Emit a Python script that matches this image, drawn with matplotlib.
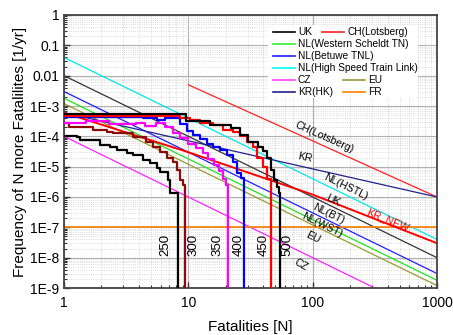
import numpy as np
import matplotlib
matplotlib.use('Agg')
import matplotlib.pyplot as plt
from matplotlib.lines import Line2D
from matplotlib.patches import Rectangle
from matplotlib.ticker import LogLocator, FixedLocator, NullFormatter

plt.rcParams['font.family'] = ['Liberation Sans', 'DejaVu Sans']

# ---- criterion lines (N, F) ----
uk_N = [1, 1000];    uk_F = [1e-2, 1e-8]
ch_N = [10, 1000];   ch_F = [5e-3, 1e-6]
wst_N = [1, 1000];   wst_F = [1.8e-3, 1.8e-9]
bt_N = [1, 1000];    bt_F = [3e-3, 3e-9]
hstl_N = [1, 1000];  hstl_F = [4e-2, 4e-8]
cz_N = [1, 1000];    cz_F = [1e-4, 1e-10]
eu_N = [1, 1000];    eu_F = [1.2e-3, 1.2e-9]
krhk_N = [1, 1000];  krhk_F = [6e-4, 1e-6]
fr_N = [1, 1000];    fr_F = [1e-7, 1e-7]
krnew_N = [1, 10, 100, 1000]; krnew_F = [6e-4, 3e-5, 1.2e-6, 3e-8]

# ---- F-N step curves (level start N, F level), drop N ----
c500_N = [1, 9.5, 15, 22, 26, 30, 36, 40, 43, 46, 49, 52, 53.5]
c500_F = [5.5e-4, 3.2e-4, 2.4e-4, 1.9e-4, 1.1e-4, 6.5e-5, 4.4e-5, 3.2e-5, 2.0e-5, 8e-6, 3.5e-6, 2.2e-6, 1.4e-6]
c500_drop = 55

c450_N = [1, 8.6, 10.3, 12.4, 15.8, 19, 22.8, 26, 29.6, 33.2, 35.8, 39.9, 43]
c450_F = [4.8e-4, 4.0e-4, 3.4e-4, 2.75e-4, 2.3e-4, 1.6e-4, 1.4e-4, 1.0e-4, 6.5e-5, 4.4e-5, 2.0e-5, 9.5e-6, 4e-6]
c450_drop = 46.3

c400_N = [1, 4.3, 5.6, 6.5, 8.6, 9.8, 10.9, 12.4, 14.1, 15.8, 18, 20.5, 22.8, 24.6, 26.5]
c400_F = [4.5e-4, 4.0e-4, 3.5e-4, 4.0e-4, 2.5e-4, 1.5e-4, 1.1e-4, 8e-5, 5.6e-5, 4.4e-5, 3.5e-5, 2.5e-5, 1.4e-5, 6.3e-6, 4.2e-6]
c400_drop = 28

c350_N = [1, 1.5, 2.3, 3.8, 4.5, 5.5, 6.5, 7.5, 8.6, 10, 11.5, 13, 14.5, 16, 17.5, 19, 20]
c350_F = [2.8e-4, 3.2e-4, 2.5e-4, 2.8e-4, 2.2e-4, 2.8e-4, 2.0e-4, 1.26e-4, 8.9e-5, 5.6e-5, 4e-5, 2.8e-5, 1.8e-5, 1.1e-5, 7e-6, 4e-6, 2.5e-6]
c350_drop = 20.9

c300_N = [1, 1.1, 1.7, 2.2, 2.5, 3.6, 4.6, 5.2, 5.9, 6.7, 7.5, 8.1, 8.6, 9.0]
c300_F = [2.75e-4, 2.0e-4, 1.6e-4, 1.4e-4, 1.3e-4, 9.3e-5, 6.5e-5, 4.4e-5, 3.0e-5, 2.0e-5, 1.4e-5, 7.6e-6, 3.5e-6, 2.5e-6]
c300_drop = 9.4

c250_N = [1, 1.27, 1.34, 1.95, 2.35, 2.67, 3.2, 3.6, 4.3, 4.9, 5.6, 5.9, 6.85, 7.1]
c250_F = [1.0e-4, 9.3e-5, 7.4e-5, 5.1e-5, 4.4e-5, 3.5e-5, 2.8e-5, 2.4e-5, 1.6e-5, 1.3e-5, 8.9e-6, 6.6e-6, 3.5e-6, 1.4e-6]
c250_drop = 8.3

xtick_vals = [1, 10, 100, 1000]
xtick_labels = ['1', '10', '100', '1000']
ytick_vals = [1e-9, 1e-8, 1e-7, 1e-6, 1e-5, 1e-4, 1e-3, 1e-2, 1e-1, 1]
ytick_labels = ['1E-9', '1E-8', '1E-7', '1E-6', '1E-5', '1E-4', '1E-3', '0.01', '0.1', '1']

fig = plt.figure(figsize=(4.53, 3.35), dpi=100)
ax = fig.add_axes([64/453, 1-288/335, 373/453, 273/335])
ax.set_xscale('log'); ax.set_yscale('log')
ax.set_xlim(1, 1000); ax.set_ylim(1e-9, 1)

# grid
ax.grid(True, which='major', color='#b0b0b0', lw=0.8, ls='-', zorder=0)
ax.grid(True, which='minor', color='#cfcfcf', lw=0.6, ls=':', zorder=0)
ax.set_axisbelow(True)

# criterion lines
crit = [
    (uk_N, uk_F, '#333333', 0.9),
    (ch_N, ch_F, '#ff2020', 0.9),
    (wst_N, wst_F, '#22e022', 0.9),
    (bt_N, bt_F, '#2020ff', 0.9),
    (hstl_N, hstl_F, '#00e8e8', 0.9),
    (cz_N, cz_F, '#ff20ff', 0.9),
    (eu_N, eu_F, '#9a9a30', 0.9),
    (krhk_N, krhk_F, '#20208c', 0.9),
    (fr_N, fr_F, '#ff8000', 1.2),
    (krnew_N, krnew_F, '#ff0000', 1.4),
]
for n, f, c, lw in crit:
    ax.plot(n, f, color=c, lw=lw, zorder=2)

steps = [
    (c250_N, c250_F, c250_drop, '#000000'),
    (c300_N, c300_F, c300_drop, '#8b0a0a'),
    (c350_N, c350_F, c350_drop, '#ff00ff'),
    (c400_N, c400_F, c400_drop, '#0000ff'),
    (c450_N, c450_F, c450_drop, '#ff0000'),
    (c500_N, c500_F, c500_drop, '#000000'),
]
for n, f, d, c in steps:
    ax.plot(list(n) + [d], list(f) + [1e-12], drawstyle='steps-post', color=c, lw=1.6, zorder=3)

# drop labels
drop_labels = [('250', 6.5), ('300', 10.9), ('350', 17.3), ('400', 25.5), ('450', 40.5), ('500', 63)]
for t, x in drop_labels:
    ax.text(x, 2.6e-8, t, rotation=90, ha='center', va='center', fontsize=9.5, zorder=4)

# line labels
line_labels = [
    ('CH(Lotsberg)', 124, 9.4e-5, -24, 'black'),
    ('KR', 87, 2.0e-5, -12, 'black'),
    ('NL(HSTL)', 186, 2.1e-6, -26, 'black'),
    ('UK', 146, 7.9e-7, -26, 'black'),
    ('NL(BT)', 135, 2.7e-7, -26, 'black'),
    ('NL(WST)', 119, 1.2e-7, -26, 'black'),
    ('EU', 100, 4.7e-8, -26, 'black'),
    ('CZ', 81, 5.6e-9, -30, 'black'),
    ('KR_NEW', 405, 1.7e-7, -22, '#ff0000'),
]
for t, x, y, r, c in line_labels:
    ax.text(x, y, t, rotation=r, ha='center', va='center', fontsize=7.6, color=c, zorder=4,
            rotation_mode='anchor')

# ticks
ax.xaxis.set_major_locator(FixedLocator(xtick_vals))
ax.set_xticklabels(xtick_labels)
ax.yaxis.set_major_locator(FixedLocator(ytick_vals))
ax.set_yticklabels(ytick_labels)
ax.xaxis.set_minor_locator(LogLocator(base=10, subs=np.arange(2, 10)))
ax.yaxis.set_minor_locator(LogLocator(base=10, subs=np.arange(2, 10), numticks=20))
ax.xaxis.set_minor_formatter(NullFormatter())
ax.yaxis.set_minor_formatter(NullFormatter())
ax.tick_params(which='both', direction='in', labelsize=10, color='#333333')
ax.tick_params(axis='x', which='major', pad=6)
ax.tick_params(which='major', length=4, width=1)
ax.tick_params(which='minor', length=2.5, width=0.8)
for s in ax.spines.values():
    s.set_color('#444444'); s.set_linewidth(1.3)

ax.set_xlabel('Fatalities [N]', fontsize=11, labelpad=7)
ax.set_ylabel('Frequency of N more Fatalilites [1/yr]', fontsize=11, labelpad=2)

# legend (manual layout)
def ax_xy(px, py):
    return ((px - 64) / 373, (288 - py) / 273)

x0, y0 = ax_xy(268, 98)
x1, y1 = ax_xy(418, 25)
ax.add_patch(Rectangle((x0, y0), x1 - x0, y1 - y0, transform=ax.transAxes,
                       facecolor='white', edgecolor='none', zorder=5))
legend_entries = [
    ('UK', '#000000', 273, 32),
    ('CH(Lotsberg)', '#ff2020', 322, 32),
    ('NL(Western Scheldt TN)', '#33ee33', 273, 44),
    ('NL(Betuwe TNL)', '#2020ff', 273, 56),
    ('NL(High Speed Train Link)', '#00ffff', 273, 68),
    ('CZ', '#ff40ff', 273, 80),
    ('EU', '#9a9a30', 343, 80),
    ('KR(HK)', '#20208c', 273, 92),
    ('FR', '#ff8000', 343, 92),
]
for t, c, px, py in legend_entries:
    a, b = ax_xy(px, py)
    a2, _ = ax_xy(px + 22, py)
    ax.add_line(Line2D([a, a2], [b, b], transform=ax.transAxes, color=c, lw=1.2, zorder=6))
    a3, _ = ax_xy(px + 25, py)
    ax.text(a3, b, t, transform=ax.transAxes, fontsize=7.3, va='center', ha='left', zorder=6)

fig.savefig('out.png', dpi=100)
